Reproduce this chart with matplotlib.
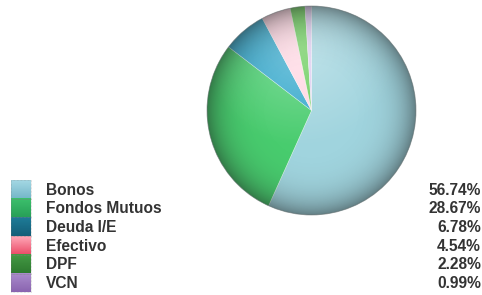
import numpy as np
import matplotlib
matplotlib.use("Agg")
import matplotlib.pyplot as plt
from matplotlib.patches import Circle, Rectangle

categories = ["Bonos", "Fondos Mutuos", "Deuda I/E", "Efectivo", "DPF", "VCN"]
values = [56.74, 28.67, 6.78, 4.54, 2.28, 0.99]
value_labels = ["56.74%", "28.67%", "6.78%", "4.54%", "2.28%", "0.99%"]

pie_colors = ["#a0d4de", "#48cc6e", "#34a8cc", "#ffd6e2", "#66cc56", "#dccaf0"]
legend_top = ["#a4d8e4", "#3cc06c", "#1e7c98", "#ffa8b8", "#449a44", "#aa8ccc"]
legend_bot = ["#74b6c8", "#28a058", "#145e78", "#ea4a66", "#2e7a30", "#8a64b0"]

W, H = 482, 295
fig = plt.figure(figsize=(W / 100, H / 100), dpi=100)
ax = fig.add_axes([0, 0, 1, 1])

cx, cy, R = 311.5, 295 - 110.5, 104.5
wedges, _ = ax.pie(values, colors=pie_colors, startangle=90, counterclock=False,
                   center=(cx, cy), radius=R, frame=True,
                   wedgeprops=dict(linewidth=0.4, edgecolor=(1, 1, 1, 0.5)))
ax.set_xlim(0, W)
ax.set_ylim(0, H)
ax.set_aspect("equal")
ax.axis("off")

# shading overlay (3D look)
n = 300
xs = np.linspace(-1, 1, n)
X, Y = np.meshgrid(xs, xs[::-1])
r = np.sqrt(X**2 + Y**2)
hx, hy = -0.1, 0.6
d = np.sqrt((X - hx)**2 + (Y - hy)**2)
white_a = np.clip(0.32 * (1 - d / 0.95), 0, None)
dark_a = np.clip(0.45 * np.clip(r, 0, 1)**6, 0, 1)
img = np.zeros((n, n, 4))
img[..., :3] = 1.0
img[..., 3] = white_a
clip = Circle((cx, cy), R, transform=ax.transData)
im1 = ax.imshow(img, extent=(cx - R, cx + R, cy - R, cy + R), zorder=3, interpolation="bilinear")
im1.set_clip_path(clip)
img2 = np.zeros((n, n, 4))
img2[..., :3] = 0.1
img2[..., 3] = dark_a
clip2 = Circle((cx, cy), R, transform=ax.transData)
im2 = ax.imshow(img2, extent=(cx - R, cx + R, cy - R, cy + R), zorder=4, interpolation="bilinear")
im2.set_clip_path(clip2)
ax.add_patch(Circle((cx, cy), R, fill=False, edgecolor=(0.3, 0.35, 0.35, 0.5), linewidth=0.6, zorder=5))

# legend
top = 295 - 180
step = 18.7
for i, (cat, vl) in enumerate(zip(categories, value_labels)):
    y0 = top - (i + 1) * step
    grad = np.linspace(0, 1, 50)[:, None]
    c1 = np.array(matplotlib.colors.to_rgb(legend_top[i]))
    c2 = np.array(matplotlib.colors.to_rgb(legend_bot[i]))
    g = c1[None, None, :] * (1 - grad[..., None]) + c2[None, None, :] * grad[..., None]
    g = np.repeat(g, 2, axis=1)
    ax.imshow(g, extent=(11, 31, y0, y0 + step), zorder=3, aspect="auto", interpolation="bilinear")
    ax.add_patch(Rectangle((11, y0), 20, step, fill=False, edgecolor=(0.5, 0.5, 0.5, 0.5),
                           linewidth=0.5, linestyle=(0, (1, 1)), zorder=4))
    yc = y0 + step / 2 - 0.8
    ax.text(46, yc, cat, fontsize=11.2, fontweight="bold", family="Liberation Sans",
            color="#333333", va="center", ha="left")
    ax.text(481, yc, vl, fontsize=11.2, fontweight="bold", family="Liberation Sans",
            color="#333333", va="center", ha="right")

ax.set_xlim(0, W)
ax.set_ylim(0, H)
fig.savefig("out.png", dpi=100)
